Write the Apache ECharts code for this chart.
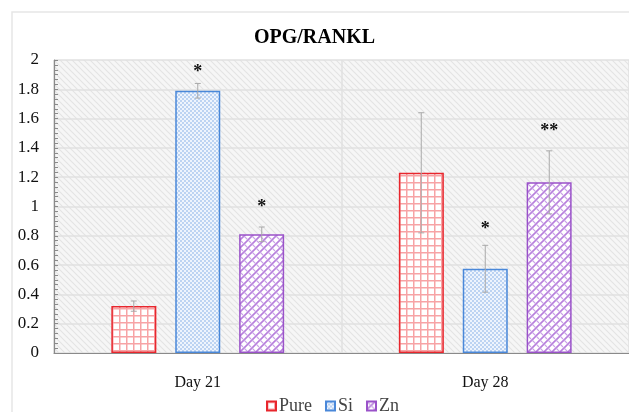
<!DOCTYPE html>
<html>
<head>
<meta charset="utf-8">
<script src="https://cdn.jsdelivr.net/npm/echarts@6/dist/echarts.min.js"></script>
<style>
  html, body { margin: 0; padding: 0; background: #fff; }
  #chart { width: 629px; height: 412px; }
</style>
</head>
<body>
<div id="chart"></div>
<script>
// OPG/RANKL ratio by scaffold type, days 21 and 28
const categories = ['Day 21', 'Day 28'];
const seriesNames = ['Pure', 'Si', 'Zn'];
const pureValues = [0.32, 1.23];
const siValues = [1.79, 0.575];
const znValues = [0.81, 1.165];
const pureErrors = [0.035, 0.41];
const siErrors = [0.05, 0.16];
const znErrors = [0.05, 0.215];
// significance marks and the value height they sit at
const pureMarks = ['', ''];
const siMarks = ['*', '*'];
const znMarks = ['*', '**'];
const pureMarkAt = [0, 0];
const siMarkAt = [1.93, 0.86];
const znMarkAt = [1.01, 1.53];
const yTicks = ['0', '0.2', '0.4', '0.6', '0.8', '1', '1.2', '1.4', '1.6', '1.8', '2'];

function makeTile(w, h, draw) {
  const c = document.createElement('canvas');
  c.width = w; c.height = h;
  draw(c.getContext('2d'), w, h);
  return { image: c, repeat: 'repeat' };
}

// plot background: light grey diagonal hatching
const hatchBg = makeTile(6, 6, (g, w, h) => {
  g.fillStyle = '#f6f6f6'; g.fillRect(0, 0, w, h);
  g.strokeStyle = '#e4e4e4'; g.lineWidth = 1.2;
  g.beginPath();
  g.moveTo(-1, -1); g.lineTo(w + 1, h + 1);
  g.moveTo(-1 - w, -1); g.lineTo(1, h + 1);
  g.moveTo(w - 1, -1); g.lineTo(2 * w + 1, h + 1);
  g.stroke();
});

// Pure: red square grid
const purePattern = makeTile(7, 7, (g, w, h) => {
  g.fillStyle = '#fff'; g.fillRect(0, 0, w, h);
  g.fillStyle = '#f7a3a5';
  g.fillRect(0, 0, w, 1.5);
  g.fillRect(0, 0, 1.5, h);
});

// Si: fine blue checker
const siPattern = makeTile(4, 4, (g, w, h) => {
  g.fillStyle = '#eef4fd'; g.fillRect(0, 0, w, h);
  g.fillStyle = '#bcd3f2';
  g.fillRect(0, 0, 2, 2);
  g.fillRect(2, 2, 2, 2);
});

// Zn: purple diagonal weave
const znPattern = makeTile(8, 8, (g, w, h) => {
  g.fillStyle = '#fff'; g.fillRect(0, 0, w, h);
  g.strokeStyle = '#b77fdc'; g.lineWidth = 1.6;
  g.beginPath();
  for (let k = -1; k <= 1; k++) {
    g.moveTo(k * w, h); g.lineTo(k * w + w, 0);
  }
  g.stroke();
  g.strokeStyle = '#c9a2e6'; g.lineWidth = 1.2;
  g.beginPath();
  g.moveTo(0, 0); g.lineTo(3, 3);
  g.moveTo(4, 4); g.lineTo(8, 8);
  g.stroke();
});

const seriesValues = [pureValues, siValues, znValues];
const seriesErrors = [pureErrors, siErrors, znErrors];
const seriesMarks = [pureMarks, siMarks, znMarks];
const seriesMarkAt = [pureMarkAt, siMarkAt, znMarkAt];
const fills = [purePattern, siPattern, znPattern];
const borders = ['#e8262d', '#4a88d9', '#9a52c9'];

const BAR_W = 45;
const BAR_STEP = 64;
const serif = '"Liberation Serif", "DejaVu Serif", serif';

const barSeries = seriesNames.map((name, i) => ({
  name: name,
  type: 'bar',
  data: seriesValues[i],
  barWidth: BAR_W,
  barGap: '42%',
  itemStyle: { color: fills[i], borderColor: borders[i], borderWidth: 1.5 },
  z: 2
}));

// error bars and significance marks, one custom series per group
const errSeries = seriesNames.map((name, i) => ({
  type: 'custom',
  name: name + '-err',
  data: categories.map((c, j) => [j, seriesValues[i][j], seriesErrors[i][j], seriesMarkAt[i][j]]),
  z: 5,
  silent: true,
  renderItem: function (params, api) {
    const j = api.value(0), v = api.value(1), e = api.value(2), m = api.value(3);
    const off = (i - 1) * BAR_STEP;
    const top = api.coord([j, v + e]);
    const bot = api.coord([j, v - e]);
    const x = top[0] + off;
    const cap = 3;
    const style = { stroke: '#a9a9a9', lineWidth: 1 };
    const children = [
      { type: 'line', shape: { x1: x, y1: top[1], x2: x, y2: bot[1] }, style: style },
      { type: 'line', shape: { x1: x - cap, y1: top[1], x2: x + cap, y2: top[1] }, style: style },
      { type: 'line', shape: { x1: x - cap, y1: bot[1], x2: x + cap, y2: bot[1] }, style: style }
    ];
    const mark = seriesMarks[i][j];
    if (mark) {
      const mp = api.coord([j, m]);
      children.push({
        type: 'text',
        style: {
          x: x, y: mp[1] + 2, text: mark, align: 'center', verticalAlign: 'middle',
          fill: '#111', font: 'bold 18px ' + serif
        }
      });
    }
    return { type: 'group', children: children };
  }
}));

const chart = echarts.init(document.getElementById('chart'));
chart.setOption({
  animation: false,
  backgroundColor: '#fff',
  title: {
    text: 'OPG/RANKL',
    left: 'center',
    top: 23,
    textStyle: { fontFamily: serif, fontWeight: 'bold', fontSize: 20, color: '#000' }
  },
  legend: {
    data: seriesNames,
    left: 261,
    top: 392,
    itemWidth: 9,
    itemHeight: 9,
    itemGap: 13,
    icon: 'rect',
    textStyle: { fontFamily: serif, fontSize: 18, color: '#444', padding: [0, 0, 0, -2] }
  },
  graphic: [{
    type: 'rect',
    shape: { x: 12, y: 12, width: 700, height: 500 },
    style: { fill: 'none', stroke: '#e6e6e6', lineWidth: 1.5 },
    silent: true,
    z: -10
  }],
  grid: {
    left: 54,
    right: -5,
    top: 60,
    bottom: 59,
    show: true,
    backgroundColor: hatchBg,
    borderWidth: 0
  },
  xAxis: {
    type: 'category',
    data: categories,
    axisLine: { lineStyle: { color: '#8a8a8a', width: 1.2 } },
    axisTick: { show: false },
    splitLine: { show: true, lineStyle: { color: '#e0e0e0', width: 1.5 } },
    axisLabel: { fontFamily: serif, fontSize: 16, color: '#111', margin: 22, interval: 0 }
  },
  yAxis: {
    type: 'value',
    min: 0,
    max: 2,
    interval: 0.2,
    axisLine: { show: true, lineStyle: { color: '#8a8a8a', width: 1.2 } },
    axisTick: { show: true, inside: true, length: 4, lineStyle: { color: '#8a8a8a' } },
    minorTick: { show: true, splitNumber: 6, length: 4, lineStyle: { color: '#8a8a8a' } },
    splitLine: { show: true, lineStyle: { color: '#e0e0e0', width: 1.5 } },
    axisLabel: {
      fontFamily: serif, fontSize: 17, color: '#111', margin: 15,
      formatter: function (v) { return yTicks[Math.round(v / 0.2)]; }
    }
  },
  series: barSeries.concat(errSeries)
});
</script>
</body>
</html>
